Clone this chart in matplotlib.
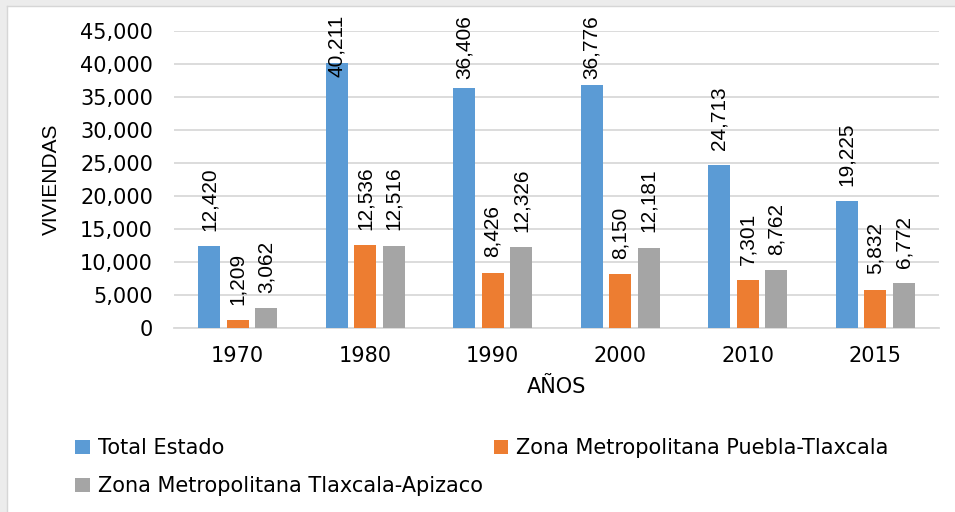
import matplotlib.pyplot as plt
import numpy as np
from matplotlib.patches import Rectangle
from matplotlib.lines import Line2D

plt.rcParams['font.family'] = ['DejaVu Sans']

# datos
anios = ['1970', '1980', '1990', '2000', '2010', '2015']
total_estado = [12420, 40211, 36406, 36776, 24713, 19225]
zm_puebla = [1209, 12536, 8426, 8150, 7301, 5832]
zm_tlaxcala = [3062, 12516, 12326, 12181, 8762, 6772]

series = [
    ('Total Estado', total_estado, '#5b9bd5'),
    ('Zona Metropolitana Puebla-Tlaxcala', zm_puebla, '#ed7d31'),
    ('Zona Metropolitana Tlaxcala-Apizaco', zm_tlaxcala, '#a5a5a5'),
]

fuente_rot = 'Liberation Sans'  # texto vertical

fig = plt.figure(figsize=(9.55, 5.12), dpi=100)
ax = fig.add_axes([0.182, 0.359, 0.801, 0.5805])

# marco gris (sombra) arriba e izquierda
fig.patches.append(Rectangle((0, 1 - 6 / 512), 1, 6 / 512, transform=fig.transFigure,
                             facecolor='#ececec', edgecolor='none', zorder=0))
fig.patches.append(Rectangle((0, 0), 7 / 955, 1, transform=fig.transFigure,
                             facecolor='#ececec', edgecolor='none', zorder=0))
fig.add_artist(Line2D([7 / 955, 1], [1 - 6 / 512] * 2, color='#d6d6d6', lw=1))
fig.add_artist(Line2D([7 / 955] * 2, [0, 1 - 6 / 512], color='#d6d6d6', lw=1))

x = np.arange(len(anios))
ancho = 0.1725
paso = 0.2235
tope = 47400  # limite superior de las etiquetas

for i, (nombre, vals, color) in enumerate(series):
    pos = x + (i - 1) * paso
    ax.bar(pos, vals, ancho, color=color, label=nombre, zorder=3)
    for xp, v in zip(pos, vals):
        txt = f'{v:,}'
        if v + 12000 > tope:
            ax.text(xp, tope, txt, rotation=90, ha='center', va='top',
                    fontsize=15, family=fuente_rot, clip_on=False, zorder=4)
        else:
            ax.annotate(txt, (xp, v), xytext=(0, 11), textcoords='offset points',
                        rotation=90, ha='center', va='bottom', fontsize=15,
                        family=fuente_rot, zorder=4)

ax.set_ylim(0, 45000)
ax.set_xlim(-0.5, len(anios) - 0.5)
ax.set_yticks(range(0, 45001, 5000))
ax.set_yticklabels([f'{t:,}' for t in range(0, 45001, 5000)])
ax.set_xticks(x)
ax.set_xticklabels(anios)
ax.tick_params(axis='both', length=0, labelsize=15)
ax.tick_params(axis='y', pad=15)
ax.tick_params(axis='x', pad=13)
ax.grid(axis='y', color='#d9d9d9', lw=1.3, zorder=0)
for s in ['top', 'right', 'left']:
    ax.spines[s].set_visible(False)
ax.spines['bottom'].set_color('#d9d9d9')
ax.spines['bottom'].set_linewidth(1.3)

ax.set_ylabel('VIVIENDAS', fontsize=15, family=fuente_rot, labelpad=14)
ax.set_xlabel('AÑOS', fontsize=15, labelpad=8)

h, l = ax.get_legend_handles_labels()
orden = [0, 2, 1]
fig.legend([h[k] for k in orden], [l[k] for k in orden], ncol=2,
           loc='upper left', bbox_to_anchor=(0.07, 0.16), frameon=False,
           fontsize=15, handlelength=0.7, handleheight=0.7, handletextpad=0.4,
           columnspacing=0.5, labelspacing=0.85, borderaxespad=0)

fig.savefig('out.png', dpi=100)
